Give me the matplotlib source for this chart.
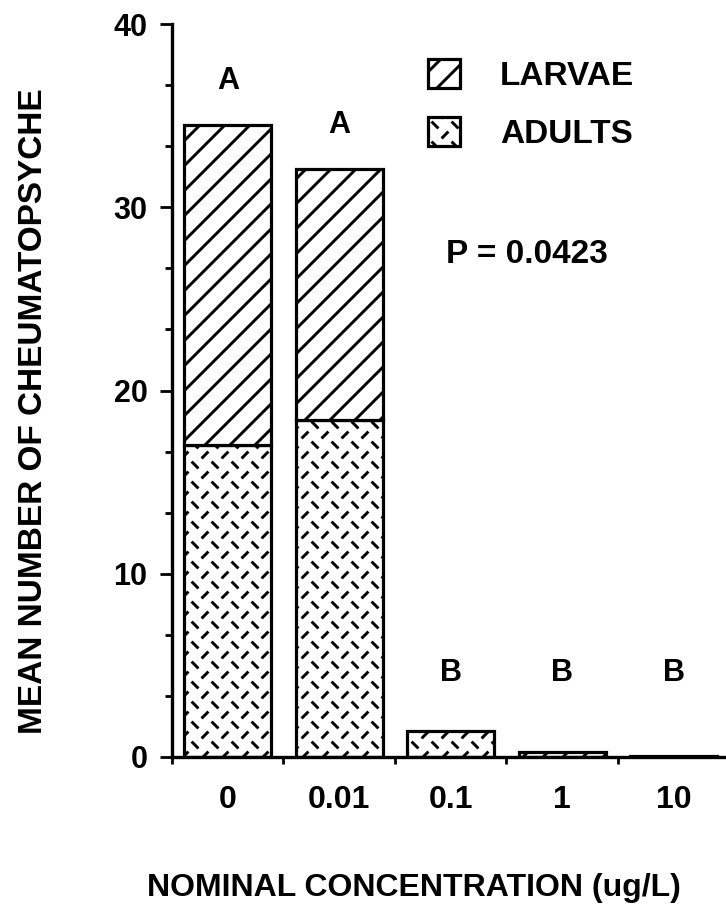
import numpy as np
import matplotlib
matplotlib.use('Agg')
import matplotlib.pyplot as plt
import matplotlib.hatch as mhatch
from matplotlib.path import Path
from matplotlib.ticker import MultipleLocator

plt.rcParams['font.family'] = 'Liberation Sans'
plt.rcParams['font.weight'] = 'bold'
plt.rcParams['axes.labelweight'] = 'bold'
plt.rcParams['hatch.linewidth'] = 2.1

# data
concentrations = ['0', '0.01', '0.1', '1', '10']
adults = [17.0, 18.4, 1.4, 0.3, 0.05]
larvae = [17.5, 13.7, 0.0, 0.0, 0.0]
groups = ['A', 'A', 'B', 'B', 'B']
p_value = 'P = 0.0423'


# the old macdraw fills: wide '/' lines and a lattice of short dashes
class WideSlash(mhatch.HatchPatternBase):
    def __init__(self, hatch, density):
        self.num_lines = 8 * hatch.count('/')
        self.num_vertices = (self.num_lines + 1) * 2 if self.num_lines else 0

    def set_vertices_and_codes(self, vertices, codes):
        steps = np.linspace(-0.5, 0.5, self.num_lines + 1)
        vertices[0::2, 0] = 0.0 + steps
        vertices[0::2, 1] = 0.0 - steps
        vertices[1::2, 0] = 1.0 + steps
        vertices[1::2, 1] = 1.0 - steps
        codes[0::2] = Path.MOVETO
        codes[1::2] = Path.LINETO


class DashLattice(mhatch.HatchPatternBase):
    n = 5

    def __init__(self, hatch, density):
        self.num_vertices = 4 * self.n * self.n if '.' in hatch else 0

    def set_vertices_and_codes(self, vertices, codes):
        c = 1.0 / self.n
        d = 0.024
        k = 0
        for i in range(self.n):
            for j in range(self.n):
                x0, y0 = (i + 0.25) * c, (j + 0.25) * c
                vertices[k] = (x0 - d, y0 - d)
                vertices[k + 1] = (x0 + d, y0 + d)
                x1, y1 = (i + 0.75) * c, (j + 0.75) * c
                vertices[k + 2] = (x1 - d, y1 + d)
                vertices[k + 3] = (x1 + d, y1 - d)
                k += 4
        codes[0::2] = Path.MOVETO
        codes[1::2] = Path.LINETO


mhatch._hatch_types = [WideSlash, DashLattice]

fig = plt.figure(figsize=(7.26, 9.06), dpi=100)
ax = fig.add_axes([172/726, 1-757/906, 1-172/726, (757-24)/906])

x = np.arange(len(concentrations))
adults = np.array(adults)
larvae = np.array(larvae)
total = adults + larvae

ax.bar(x, adults, width=0.78, color='white', edgecolor='black',
       linewidth=2.3, hatch='.', label='ADULTS')
ax.bar(x[larvae > 0], larvae[larvae > 0], bottom=adults[larvae > 0], width=0.78,
       color='white', edgecolor='black', linewidth=2.3, hatch='/', label='LARVAE')

for xi, t, g in zip(x, total, groups):
    ax.text(xi, max(t + 2.4, 4.6), g, ha='center', va='center', fontsize=22)

ax.text(1.955, 27.4, p_value, ha='left', va='center', fontsize=24)

h, l = ax.get_legend_handles_labels()
ax.legend(h[::-1], l[::-1], loc='upper left', bbox_to_anchor=(0.462, 0.952),
          frameon=False, fontsize=24, handlelength=0.96, handleheight=0.96,
          handletextpad=1.2, labelspacing=0.75, borderpad=0, borderaxespad=0)

ax.set_xlim(-0.5, 4.47)
ax.set_ylim(0, 40)

ax.set_xticks(x, concentrations)
ax.set_xticks(np.arange(-0.5, 4.5, 1.0), minor=True)
ax.tick_params(axis='x', which='major', length=0, pad=20, labelsize=23)
ax.tick_params(axis='x', which='minor', length=5, width=2, direction='out')

ax.yaxis.set_major_locator(MultipleLocator(10))
ax.yaxis.set_minor_locator(MultipleLocator(10/3))
ax.tick_params(axis='y', which='major', length=8.6, width=2, pad=9, labelsize=22)
ax.tick_params(axis='y', which='minor', length=5, width=2)

for s in ['top', 'right']:
    ax.spines[s].set_visible(False)
for s in ['left', 'bottom']:
    ax.spines[s].set_linewidth(2.4)

ax.set_ylabel('MEAN NUMBER OF CHEUMATOPSYCHE', fontsize=24)
ax.yaxis.set_label_coords(-0.222, 0.472)
ax.set_xlabel('NOMINAL CONCENTRATION (ug/L)', fontsize=23)
ax.xaxis.set_label_coords(0.436, -0.158)

fig.savefig('out.png', dpi=100)
